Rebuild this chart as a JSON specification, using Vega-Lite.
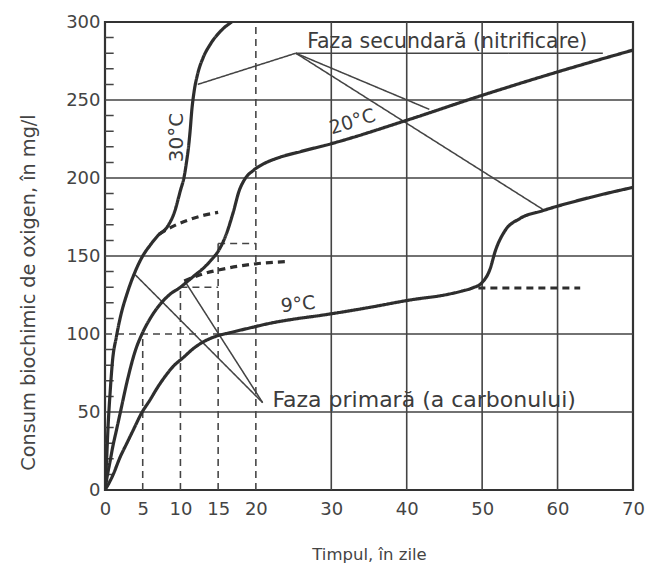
{
  "$schema": "https://vega.github.io/schema/vega-lite/v6.json",
  "width": 528,
  "height": 468,
  "autosize": "none",
  "padding": {"left": 105, "top": 22, "right": 17, "bottom": 82},
  "background": "white",
  "config": {
    "view": {"stroke": "#333", "strokeWidth": 2.2},
    "font": "DejaVu Sans",
    "text": {"font": "DejaVu Sans", "color": "#3c3c3c"}
  },
  "datasets": {
    "segs": [
      {"x": 0, "x2": 70, "y": 50, "y2": 50, "kind": "grid"},
      {"x": 15, "x2": 70, "y": 100, "y2": 100, "kind": "grid"},
      {"x": 0, "x2": 70, "y": 150, "y2": 150, "kind": "grid"},
      {"x": 0, "x2": 70, "y": 200, "y2": 200, "kind": "grid"},
      {"x": 0, "x2": 70, "y": 250, "y2": 250, "kind": "grid"},
      {"x": 30, "x2": 30, "y": 0, "y2": 300, "kind": "grid"},
      {"x": 40, "x2": 40, "y": 0, "y2": 300, "kind": "grid"},
      {"x": 50, "x2": 50, "y": 0, "y2": 300, "kind": "grid"},
      {"x": 60, "x2": 60, "y": 0, "y2": 300, "kind": "grid"},
      {"x": 20, "x2": 20, "y": 0, "y2": 300, "kind": "dash"},
      {"x": 5, "x2": 5, "y": 0, "y2": 100, "kind": "dash"},
      {"x": 0, "x2": 15, "y": 100, "y2": 100, "kind": "dash"},
      {"x": 10, "x2": 10, "y": 0, "y2": 130, "kind": "dash"},
      {"x": 10, "x2": 15, "y": 130, "y2": 130, "kind": "dash"},
      {"x": 15, "x2": 15, "y": 0, "y2": 158, "kind": "dash"},
      {"x": 15, "x2": 20, "y": 158, "y2": 158, "kind": "dash"},
      {"x": 12.3, "x2": 25.3, "y": 260, "y2": 280, "kind": "lead"},
      {"x": 25.3, "x2": 66, "y": 280, "y2": 280, "kind": "lead"},
      {"x": 25.3, "x2": 43, "y": 280, "y2": 244, "kind": "lead"},
      {"x": 25.3, "x2": 58, "y": 280, "y2": 180, "kind": "lead"},
      {"x": 4, "x2": 20.9, "y": 138, "y2": 56, "kind": "lead"},
      {"x": 10.7, "x2": 20.9, "y": 133, "y2": 56, "kind": "lead"},
      {"x": 0, "x2": 1.15, "y": 10, "y2": 10, "kind": "tick"},
      {"x": 0, "x2": 1.15, "y": 20, "y2": 20, "kind": "tick"},
      {"x": 0, "x2": 1.15, "y": 30, "y2": 30, "kind": "tick"},
      {"x": 0, "x2": 1.15, "y": 40, "y2": 40, "kind": "tick"},
      {"x": 0, "x2": 1.15, "y": 60, "y2": 60, "kind": "tick"},
      {"x": 0, "x2": 1.15, "y": 70, "y2": 70, "kind": "tick"},
      {"x": 0, "x2": 1.15, "y": 80, "y2": 80, "kind": "tick"},
      {"x": 0, "x2": 1.15, "y": 90, "y2": 90, "kind": "tick"},
      {"x": 0, "x2": 1.15, "y": 110, "y2": 110, "kind": "tick"},
      {"x": 0, "x2": 1.15, "y": 120, "y2": 120, "kind": "tick"},
      {"x": 0, "x2": 1.15, "y": 130, "y2": 130, "kind": "tick"},
      {"x": 0, "x2": 1.15, "y": 140, "y2": 140, "kind": "tick"},
      {"x": 0, "x2": 1.15, "y": 160, "y2": 160, "kind": "tick"},
      {"x": 0, "x2": 1.15, "y": 170, "y2": 170, "kind": "tick"},
      {"x": 0, "x2": 1.15, "y": 180, "y2": 180, "kind": "tick"},
      {"x": 0, "x2": 1.15, "y": 190, "y2": 190, "kind": "tick"},
      {"x": 0, "x2": 1.15, "y": 210, "y2": 210, "kind": "tick"},
      {"x": 0, "x2": 1.15, "y": 220, "y2": 220, "kind": "tick"},
      {"x": 0, "x2": 1.15, "y": 230, "y2": 230, "kind": "tick"},
      {"x": 0, "x2": 1.15, "y": 240, "y2": 240, "kind": "tick"},
      {"x": 0, "x2": 1.15, "y": 260, "y2": 260, "kind": "tick"},
      {"x": 0, "x2": 1.15, "y": 270, "y2": 270, "kind": "tick"},
      {"x": 0, "x2": 1.15, "y": 280, "y2": 280, "kind": "tick"},
      {"x": 0, "x2": 1.15, "y": 290, "y2": 290, "kind": "tick"}
    ],
    "curves": [
      {"id": "30s", "part": "solid", "x": 0, "y": 0},
      {"id": "30s", "part": "solid", "x": 0.2, "y": 18},
      {"id": "30s", "part": "solid", "x": 0.4, "y": 40},
      {"id": "30s", "part": "solid", "x": 0.7, "y": 64},
      {"id": "30s", "part": "solid", "x": 1, "y": 83},
      {"id": "30s", "part": "solid", "x": 1.5, "y": 98},
      {"id": "30s", "part": "solid", "x": 2, "y": 110},
      {"id": "30s", "part": "solid", "x": 3, "y": 127},
      {"id": "30s", "part": "solid", "x": 4, "y": 140},
      {"id": "30s", "part": "solid", "x": 5, "y": 150},
      {"id": "30s", "part": "solid", "x": 6, "y": 157},
      {"id": "30s", "part": "solid", "x": 7, "y": 163},
      {"id": "30s", "part": "solid", "x": 8.3, "y": 169},
      {"id": "30s", "part": "solid", "x": 9.2, "y": 178},
      {"id": "30s", "part": "solid", "x": 10, "y": 192},
      {"id": "30s", "part": "solid", "x": 10.5, "y": 201},
      {"id": "30s", "part": "solid", "x": 10.8, "y": 210},
      {"id": "30s", "part": "solid", "x": 11.1, "y": 221},
      {"id": "30s", "part": "solid", "x": 11.3, "y": 231},
      {"id": "30s", "part": "solid", "x": 11.5, "y": 243},
      {"id": "30s", "part": "solid", "x": 11.8, "y": 255},
      {"id": "30s", "part": "solid", "x": 12.3, "y": 267},
      {"id": "30s", "part": "solid", "x": 13, "y": 277},
      {"id": "30s", "part": "solid", "x": 14, "y": 286},
      {"id": "30s", "part": "solid", "x": 15.5, "y": 295},
      {"id": "30s", "part": "solid", "x": 16.8, "y": 300},
      {"id": "30d", "part": "dash", "x": 7.2, "y": 164},
      {"id": "30d", "part": "dash", "x": 9, "y": 169},
      {"id": "30d", "part": "dash", "x": 11, "y": 173},
      {"id": "30d", "part": "dash", "x": 13, "y": 176},
      {"id": "30d", "part": "dash", "x": 15, "y": 178},
      {"id": "20s", "part": "solid", "x": 0, "y": 0},
      {"id": "20s", "part": "solid", "x": 0.3, "y": 9},
      {"id": "20s", "part": "solid", "x": 0.7, "y": 19},
      {"id": "20s", "part": "solid", "x": 1, "y": 27},
      {"id": "20s", "part": "solid", "x": 1.5, "y": 38},
      {"id": "20s", "part": "solid", "x": 2, "y": 49},
      {"id": "20s", "part": "solid", "x": 3, "y": 71},
      {"id": "20s", "part": "solid", "x": 4, "y": 89},
      {"id": "20s", "part": "solid", "x": 5, "y": 101},
      {"id": "20s", "part": "solid", "x": 6, "y": 110},
      {"id": "20s", "part": "solid", "x": 7.3, "y": 119},
      {"id": "20s", "part": "solid", "x": 8.5, "y": 125},
      {"id": "20s", "part": "solid", "x": 10, "y": 130},
      {"id": "20s", "part": "solid", "x": 11, "y": 134},
      {"id": "20s", "part": "solid", "x": 12, "y": 138},
      {"id": "20s", "part": "solid", "x": 13, "y": 142},
      {"id": "20s", "part": "solid", "x": 14, "y": 147},
      {"id": "20s", "part": "solid", "x": 15, "y": 153},
      {"id": "20s", "part": "solid", "x": 16, "y": 163},
      {"id": "20s", "part": "solid", "x": 17, "y": 178},
      {"id": "20s", "part": "solid", "x": 17.8, "y": 192},
      {"id": "20s", "part": "solid", "x": 18.5, "y": 199},
      {"id": "20s", "part": "solid", "x": 19.7, "y": 205},
      {"id": "20s", "part": "solid", "x": 21, "y": 209},
      {"id": "20s", "part": "solid", "x": 23, "y": 213},
      {"id": "20s", "part": "solid", "x": 26, "y": 217},
      {"id": "20s", "part": "solid", "x": 30, "y": 222},
      {"id": "20s", "part": "solid", "x": 40, "y": 237},
      {"id": "20s", "part": "solid", "x": 50, "y": 253},
      {"id": "20s", "part": "solid", "x": 60, "y": 268},
      {"id": "20s", "part": "solid", "x": 70, "y": 282},
      {"id": "20d", "part": "dash", "x": 10.5, "y": 134},
      {"id": "20d", "part": "dash", "x": 13, "y": 138.5},
      {"id": "20d", "part": "dash", "x": 16, "y": 142},
      {"id": "20d", "part": "dash", "x": 20, "y": 145},
      {"id": "20d", "part": "dash", "x": 24.5, "y": 146.5},
      {"id": "9s", "part": "solid", "x": 0, "y": 0},
      {"id": "9s", "part": "solid", "x": 0.7, "y": 6},
      {"id": "9s", "part": "solid", "x": 1, "y": 9},
      {"id": "9s", "part": "solid", "x": 2, "y": 21},
      {"id": "9s", "part": "solid", "x": 3, "y": 31},
      {"id": "9s", "part": "solid", "x": 4, "y": 41},
      {"id": "9s", "part": "solid", "x": 4.7, "y": 48},
      {"id": "9s", "part": "solid", "x": 6, "y": 58},
      {"id": "9s", "part": "solid", "x": 7, "y": 66},
      {"id": "9s", "part": "solid", "x": 8, "y": 73},
      {"id": "9s", "part": "solid", "x": 9, "y": 79},
      {"id": "9s", "part": "solid", "x": 10.4, "y": 85},
      {"id": "9s", "part": "solid", "x": 11.8, "y": 91},
      {"id": "9s", "part": "solid", "x": 12.7, "y": 94},
      {"id": "9s", "part": "solid", "x": 14.4, "y": 98},
      {"id": "9s", "part": "solid", "x": 16.7, "y": 101},
      {"id": "9s", "part": "solid", "x": 19.3, "y": 104},
      {"id": "9s", "part": "solid", "x": 22, "y": 107},
      {"id": "9s", "part": "solid", "x": 25, "y": 109.5},
      {"id": "9s", "part": "solid", "x": 28.7, "y": 112},
      {"id": "9s", "part": "solid", "x": 35, "y": 117},
      {"id": "9s", "part": "solid", "x": 40.7, "y": 122},
      {"id": "9s", "part": "solid", "x": 45, "y": 125},
      {"id": "9s", "part": "solid", "x": 47.3, "y": 127.5},
      {"id": "9s", "part": "solid", "x": 48.7, "y": 129.5},
      {"id": "9s", "part": "solid", "x": 50, "y": 133},
      {"id": "9s", "part": "solid", "x": 51, "y": 141},
      {"id": "9s", "part": "solid", "x": 51.8, "y": 154},
      {"id": "9s", "part": "solid", "x": 53, "y": 166},
      {"id": "9s", "part": "solid", "x": 55, "y": 174},
      {"id": "9s", "part": "solid", "x": 58, "y": 179},
      {"id": "9s", "part": "solid", "x": 64.7, "y": 188},
      {"id": "9s", "part": "solid", "x": 70, "y": 194},
      {"id": "9d", "part": "dash", "x": 49.5, "y": 129.5},
      {"id": "9d", "part": "dash", "x": 56, "y": 129.5},
      {"id": "9d", "part": "dash", "x": 63, "y": 129.5}
    ],
    "sec": [{"x": 26.8, "y": 287.5, "text": "Faza secundară (nitrificare)"}],
    "prim": [{"x": 22.2, "y": 58, "text": "Faza primară (a carbonului)"}],
    "t30": [{"x": 9.6, "y": 226, "text": "30°C"}],
    "t20": [{"x": 32.8, "y": 236, "text": "20°C"}],
    "t9": [{"x": 25.6, "y": 119, "text": "9°C"}]
  },
  "encoding": {
    "x": {
      "field": "x",
      "type": "quantitative",
      "title": "Timpul, în zile",
      "scale": {"domain": [0, 70], "nice": false, "zero": false},
      "axis": {
        "values": [0, 5, 10, 15, 20, 30, 40, 50, 60, 70],
        "grid": false,
        "domain": false,
        "ticks": false,
        "labelPadding": 10,
        "labelFontSize": 18,
        "labelColor": "#444",
        "labelFlush": false,
        "labelOverlap": false,
        "labelFont": "DejaVu Sans",
        "titleFont": "DejaVu Sans",
        "titleFontSize": 16.5,
        "titleFontWeight": "normal",
        "titleColor": "#444",
        "titlePadding": 28
      }
    },
    "y": {
      "field": "y",
      "type": "quantitative",
      "title": "Consum  biochimic de oxigen, în mg/l",
      "scale": {"domain": [0, 300], "nice": false},
      "axis": {
        "values": [0, 50, 100, 150, 200, 250, 300],
        "grid": false,
        "domain": false,
        "ticks": false,
        "labelPadding": 5,
        "labelFontSize": 18,
        "labelColor": "#444",
        "labelFlush": false,
        "labelOverlap": false,
        "labelFont": "DejaVu Sans",
        "titleFont": "DejaVu Sans",
        "titleFontSize": 19.3,
        "titleFontWeight": "normal",
        "titleColor": "#444",
        "titleAngle": 270,
        "titleX": -77,
        "titleY": 270,
        "titleAlign": "center",
        "titleBaseline": "middle"
      }
    }
  },
  "layer": [
    {
      "data": {"name": "segs"},
      "mark": {"type": "rule", "color": "#444"},
      "encoding": {
        "strokeDash": {"field": "kind", "type": "nominal", "scale": {"domain": ["grid", "dash", "lead", "tick"], "range": [[1, 0], [7, 5], [1, 0], [1, 0]]}, "legend": null},
        "size": {"field": "kind", "type": "nominal", "scale": {"domain": ["grid", "dash", "lead", "tick"], "range": [1.6, 1.5, 1.3, 1.7]}, "legend": null},
        "x2": {"field": "x2"},
        "y2": {"field": "y2"}
      }
    },
    {
      "data": {"name": "curves"},
      "mark": {"type": "line", "color": "#2e2e2e", "interpolate": "monotone", "clip": true, "strokeWidth": 3.2},
      "encoding": {
        "detail": {"field": "id", "type": "nominal"},
        "strokeDash": {"field": "part", "type": "nominal", "scale": {"domain": ["solid", "dash"], "range": [[1, 0], [10, 7]]}, "legend": null}
      }
    },
    {
      "data": {"name": "sec"},
      "mark": {"type": "text", "fontSize": 20.5, "align": "left", "baseline": "middle"},
      "encoding": {"text": {"field": "text"}}
    },
    {
      "data": {"name": "prim"},
      "mark": {"type": "text", "fontSize": 22, "align": "left", "baseline": "middle"},
      "encoding": {"text": {"field": "text"}}
    },
    {
      "data": {"name": "t30"},
      "mark": {"type": "text", "fontSize": 20, "angle": 270, "align": "center", "baseline": "middle"},
      "encoding": {"text": {"field": "text"}}
    },
    {
      "data": {"name": "t20"},
      "mark": {"type": "text", "fontSize": 19, "angle": 343, "align": "center", "baseline": "middle"},
      "encoding": {"text": {"field": "text"}}
    },
    {
      "data": {"name": "t9"},
      "mark": {"type": "text", "fontSize": 19, "angle": 354, "align": "center", "baseline": "middle"},
      "encoding": {"text": {"field": "text"}}
    }
  ]
}
